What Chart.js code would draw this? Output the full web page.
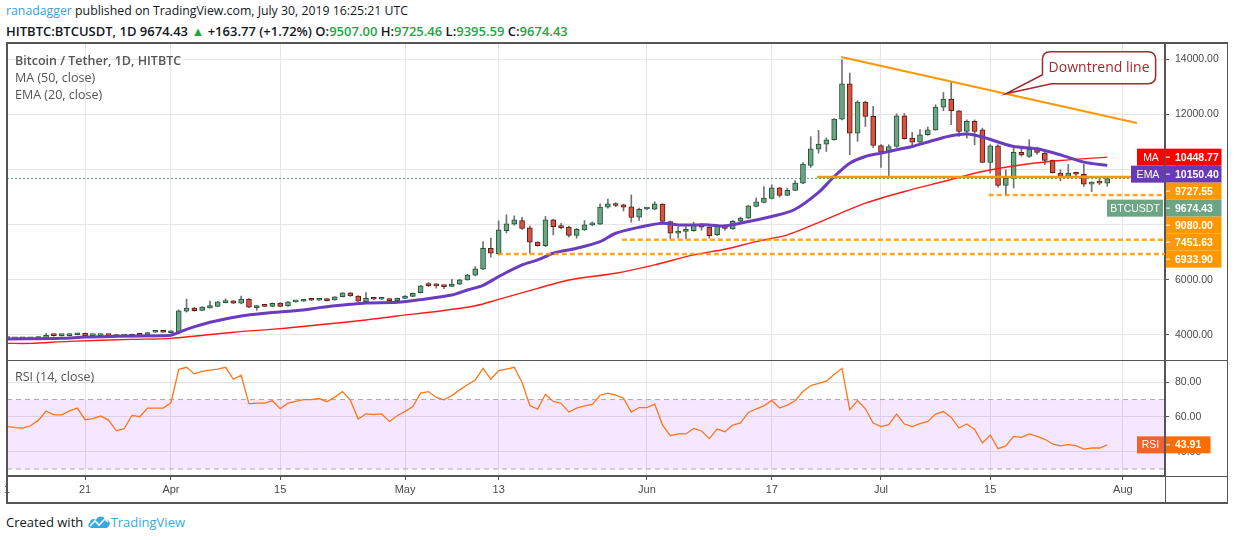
<!DOCTYPE html>
<html>
<head>
<meta charset="utf-8">
<title>Bitcoin / Tether, 1D, HITBTC</title>
<script src="https://cdn.jsdelivr.net/npm/chart.js@4.4.1/dist/chart.umd.min.js"></script>
<style>
  html, body { margin:0; padding:0; background:#fff; }
  body { width:1234px; height:540px; position:relative; overflow:hidden; font-family:'Open Sans', sans-serif; color:#131722; }
  .t { position:absolute; white-space:nowrap; line-height:16px; }
  #h1 { left:6px; top:3px; font-size:12.3px; }
  #h1 .user { color:#3b9fde; }
  #h2 { left:6px; top:23px; font-size:13px; font-weight:600; }
  #h2 .g { color:#1ea63f; }
  .lg { left:15px; font-size:12.5px; color:#555; }
  .lg.b { font-weight:600; }
  canvas { position:absolute; left:0; }
  .ln { position:absolute; background:#555; }
  #foot { left:6px; top:514px; font-size:13px; color:#131722; }
  #foot .tv { color:#36a9e1; }
</style>
</head>
<body>
<div class="t" id="h1"><span class="user">ranadagger</span> published on TradingView.com, July 30, 2019 16:25:21 UTC</div>
<div class="t" id="h2">HITBTC:BTCUSDT, 1D 9674.43 <span style="color:#1ea63f">▲</span> +163.77 (+1.72%) O:<span class="g">9507.00</span> H:<span class="g">9725.46</span> L:<span class="g">9395.59</span> C:<span class="g">9674.43</span></div>

<canvas id="main" width="1234" height="317" style="top:43px"></canvas>
<canvas id="rsi" width="1234" height="143" style="top:360px"></canvas>

<div class="ln" style="left:6px;top:42px;width:1222px;height:1.5px"></div>
<div class="ln" style="left:6px;top:502px;width:1222px;height:1.5px"></div>
<div class="ln" style="left:6px;top:42px;width:1.5px;height:461px"></div>
<div class="ln" style="left:1226.5px;top:42px;width:1.5px;height:461px"></div>
<div class="ln" style="left:6px;top:359.5px;width:1222px;height:1.5px"></div>
<div class="ln" style="left:6px;top:475.5px;width:1222px;height:1.5px"></div>
<div class="ln" style="left:1164.5px;top:42px;width:1.5px;height:461px"></div>

<div class="t lg b" style="top:53px">Bitcoin / Tether, 1D, HITBTC</div>
<div class="t lg" style="top:70px">MA (50, close)</div>
<div class="t lg" style="top:87px">EMA (20, close)</div>
<div class="t lg" style="top:369px">RSI (14, close)</div>

<div class="t" id="foot">Created with <svg width="24" height="14" viewBox="0 0 24 14" style="vertical-align:-2px"><path d="M5 13 C1 13 0 9 3 7.5 C3 4 7 3 9 5 C10 1 16 0 18 4 C22 4 24 8 22 11 C21 12.5 20 13 18 13 Z" fill="#36a9e1"/><polyline points="3,11 8,6 12,10 18,4 21,7" fill="none" stroke="#fff" stroke-width="1.6"/></svg><span class="tv">TradingView</span></div>

<script>
// ---------- DATA ----------
// x values are day numbers counted from 2019-03-01 (day 0); first candle = Mar 11
const firstDay = 10;
const opens = [
  3905,3865,3890,3865,3870,3905,4000,3975,3975,4010,
  4060,3975,3975,4025,3990,3960,3940,4030,4000,4100,
  4120,4080,4120,4860,4980,4895,4980,5040,5175,5235,
  5150,5305,4990,5055,5040,5160,5050,5200,5225,5295,
  5260,5305,5270,5390,5525,5415,5210,5330,5295,5310,
  5245,5330,5400,5535,5860,5850,5790,5765,5840,5995,
  6165,6385,7145,6950,7785,8020,8150,7885,7365,7240,
  8175,7955,7910,7615,7810,7990,8015,8635,8755,8720,
  8645,8270,8570,8560,8745,8115,7690,7760,7785,7990,
  7910,7640,7980,7845,8125,8235,8660,8805,8950,9335,
  9060,9240,9505,10145,10740,10920,11080,11830,13110,11320,
  12445,11925,10870,10630,10835,11950,11140,10995,11260,11440,
  12265,12555,12130,11380,11745,11440,10255,10860,9420,9685,
  10620,10475,10740,10595,10330,9870,9750,9870,9830,9470,
  9540,9507
];
const highs = [
  3920,3910,3900,3900,3940,4060,4020,4025,4045,4070,
  4070,4020,4035,4035,4000,3975,4035,4040,4100,4130,
  4130,4160,4910,5300,5000,5030,5230,5210,5310,5245,
  5415,5320,5070,5065,5160,5170,5210,5250,5285,5305,
  5320,5320,5390,5540,5540,5430,5535,5340,5310,5320,
  5340,5425,5520,5800,5900,5870,5800,6020,6020,6200,
  6480,7390,7510,8140,8360,8320,8270,7960,7380,8300,
  8200,8050,7950,7860,8150,8100,8755,8925,8800,8750,
  9080,8600,8600,8830,8760,8130,7910,7930,8090,8050,
  7930,8000,8000,8150,8280,8700,8960,9385,9445,9350,
  9330,9600,10250,11190,11420,11150,11850,13980,13500,12500,
  12480,12290,10900,10900,12020,12030,11350,11450,11540,12350,
  12795,13160,12140,11800,11800,11500,10900,10900,9990,10780,
  10780,11080,10810,10660,10350,9990,10185,9900,10185,9560,
  9700,9725.46
];
const lows = [
  3860,3850,3850,3855,3860,3895,3960,3965,3965,4000,
  3960,3960,3965,3965,3920,3945,3930,3980,3990,4090,
  4090,4070,4110,4830,4860,4880,4970,5030,5165,5140,
  5140,4990,4895,5030,5030,5030,5040,5190,5215,5250,
  5250,5235,5260,5380,5400,5210,5200,5285,5280,5235,
  5235,5320,5390,5525,5760,5700,5680,5750,5830,5985,
  6140,6370,6820,6900,7700,7980,7830,6960,7220,7200,
  7630,7850,7560,7510,7790,7960,8000,8600,8650,8500,
  8090,8150,8540,8540,8100,7485,7510,7485,7760,7800,
  7510,7600,7800,7830,8110,8220,8640,8790,8930,9000,
  9050,9230,9490,10075,10595,10655,11060,11800,10535,11020,
  11560,10800,10075,9750,10800,11100,10900,10950,11240,11420,
  12130,11625,11200,11140,10900,10250,9870,9360,9080,9330,
  10480,10440,10560,10180,9870,9590,9680,9780,9385,9200,
  9450,9395.59
];
const closes = [
  3870,3890,3865,3885,3930,3990,3975,4010,4035,4060,
  3975,4010,4025,3975,3940,3965,4025,3990,4090,4120,
  4100,4150,4880,4980,4880,5015,5065,5200,5235,5150,
  5305,5005,5050,5040,5150,5040,5200,5235,5270,5260,
  5305,5245,5380,5525,5415,5225,5330,5295,5300,5245,
  5330,5415,5510,5780,5775,5780,5755,5850,6000,6170,
  6400,7145,6965,7810,8030,8175,7860,7365,7240,8175,
  7930,7895,7615,7835,7990,8050,8635,8755,8695,8635,
  8260,8560,8575,8755,8115,7690,7765,7810,7980,7910,
  7605,7980,7860,8125,8235,8680,8825,8960,9335,9060,
  9250,9505,10195,10750,10920,11080,11830,13110,11320,12445,
  11925,10870,10630,10835,11950,11115,10995,11260,11440,12265,
  12555,12130,11380,11745,11380,10255,10860,9420,9685,10620,
  10530,10740,10620,10330,9890,9750,9870,9830,9470,9540,
  9505,9674.43
];
const rsiValues = [
  54.5,53.8,53.6,54.9,58.0,63.4,61.2,61.2,63.5,65.1,
  58.4,59.0,60.5,58.2,52.0,53.2,60.9,60.1,65.1,65.1,
  65.1,68.1,87.4,88.6,84.8,86.3,87.0,87.6,88.6,81.7,
  84.0,67.5,67.9,67.9,69.3,64.7,67.9,68.9,70.0,70.0,
  70.6,68.7,71.4,74.6,69.5,58.8,61.8,61.4,61.8,57.4,
  60.7,63.2,66.0,73.7,74.6,71.2,69.8,72.3,75.6,78.5,
  81.3,88.0,81.7,86.7,87.6,88.6,79.8,66.6,64.5,73.1,
  68.9,67.9,62.8,65.1,66.4,67.2,72.5,73.7,72.5,70.8,
  62.8,65.4,65.4,67.4,55.3,49.2,50.2,50.2,53.4,51.9,
  47.5,53.0,51.5,55.3,56.5,62.6,64.7,66.4,69.5,65.1,
  66.8,69.3,74.6,78.1,79.4,80.6,84.5,88.0,64.1,69.5,
  64.7,56.5,54.4,55.5,61.6,55.9,54.4,56.1,57.4,61.6,
  63.1,59.7,53.6,55.9,52.8,45.0,49.6,41.7,43.3,48.8,
  48.2,50.2,48.8,47.1,44.4,43.3,44.0,43.5,41.5,42.1,
  42.1,43.91
];
// MA(50) and EMA(20) at sample days
const maDays   = [10,13,18,26,31,39,45,50,56,60,65,70,73,78,82,88,93,98,102,106,110,114,120,125,130,135,141,145,151];
const maValues = [3697,3697,3770,3842,3878,4100,4230,4370,4544,4689,4850,5060,5290,5693,5996,6238,6540,6903,7109,7387,7630,8077,8779,9203,9566,9929,10207,10328,10448.77];
const emaDays   = [10,17,20,24,30,31,32,33,36,40,43,48,50,54,56,60,63,67,69,71,73,76,78,80,83,86,88,91,94,96,100,102,105,108,111,114,116,118,120,122,124,126,129,131,133,135,137,139,142,145,148,151];
const emaValues = [3854,3878,3927,3951,3975,3990,4090,4205,4459,4689,4786,4907,4992,5113,5161,5185,5282,5452,5633,5800,6117,6540,6722,6964,7146,7387,7690,7908,8053,7992,7992,7956,8114,8295,8560,9170,9747,10231,10473,10594,10715,10836,11078,11223,11284,11180,11000,10836,10751,10533,10267,10150.40];

// horizontal levels drawn on the chart
const levelValues    = [9727.55, 9080.00, 7451.63, 6933.90];
const levelStartDays = [113.8, 135.8, 88.8, 72.9];
const levelDashed    = [false, true, true, true];
const lastPrice = 9674.43, lastMA = 10448.77, lastEMA = 10150.40, lastRSI = 43.91;
// downtrend line (day, price)
const trendDays   = [116.9, 154.8];
const trendPrices = [14080, 11684];
const calloutText = 'Downtrend line';
const calloutTip  = { day: 138, price: 12746 };
const calloutBox  = { day0: 142.7, day1: 157.2, top: 14270, bottom: 13110 };

// axes
const tickDays   = [10, 20, 31, 45, 61, 73, 92, 108, 122, 136, 153];
const tickLabels = ['1', '21', 'Apr', '15', 'May', '13', 'Jun', '17', 'Jul', '15', 'Aug'];
const priceTicks = [4000, 6000, 8000, 10000, 12000, 14000];
const rsiTicks   = [40, 60, 80];
const rsiBands   = [70, 30];
const X_MIN = 9.99, X_MAX = 158.4;
const P_MIN = 3093, P_MAX = 14588;
const R_MIN = 25.96, R_MAX = 92.8;

// ---------- CHART ----------
Chart.defaults.font.family = "'Liberation Sans', Arial, sans-serif";
const AX_FONT = "'Liberation Sans', Arial, sans-serif";
const days = opens.map((_, i) => firstDay + i);
const up = i => closes[i] >= opens[i];

function tagPlugin(id, items, boxW) {
  return {
    id,
    afterDraw(chart) {
      const { ctx, chartArea: ca } = chart;
      const y = chart.scales.y;
      const H = 17;
      const sorted = items.slice().sort((a, b) => b.v - a.v);
      let prevBottom = -1e9;
      ctx.save();
      ctx.textBaseline = 'middle';
      for (const it of sorted) {
        const top = Math.max(y.getPixelForValue(it.v) - H / 2, prevBottom);
        prevBottom = top + H;
        const cy = top + H / 2 + 0.5;
        ctx.fillStyle = it.bg;
        ctx.fillRect(ca.right + 0.5, top, boxW, H);
        ctx.strokeStyle = '#fff';
        ctx.lineWidth = 1;
        ctx.beginPath();
        ctx.moveTo(ca.right + 1, top + H / 2);
        ctx.lineTo(ca.right + 5, top + H / 2);
        ctx.stroke();
        ctx.fillStyle = '#fff';
        ctx.font = 'bold 10.5px ' + AX_FONT;
        ctx.textAlign = 'left';
        ctx.fillText(it.v.toFixed(2), ca.right + 10, cy);
        if (it.pane) {
          const gap = it.gap || 0;
          ctx.fillStyle = it.paneBg || it.bg;
          ctx.fillRect(ca.right - it.paneW - gap, top, it.paneW, H);
          ctx.fillStyle = '#fff';
          ctx.font = '10.5px ' + AX_FONT;
          ctx.textAlign = 'center';
          ctx.fillText(it.pane, ca.right - gap - it.paneW / 2, cy);
        }
      }
      ctx.restore();
    }
  };
}

const calloutPlugin = {
  id: 'callout',
  afterDatasetsDraw(chart) {
    const { ctx } = chart;
    const x = chart.scales.x, y = chart.scales.y;
    const x0 = x.getPixelForValue(calloutBox.day0), x1 = x.getPixelForValue(calloutBox.day1);
    const y0 = y.getPixelForValue(calloutBox.top), y1 = y.getPixelForValue(calloutBox.bottom);
    const tx = x.getPixelForValue(calloutTip.day), ty = y.getPixelForValue(calloutTip.price);
    const r = 8;
    ctx.save();
    ctx.strokeStyle = '#a5282b';
    ctx.lineWidth = 1.5;
    ctx.fillStyle = '#fff';
    ctx.beginPath();
    ctx.moveTo(x0 + r, y0);
    ctx.lineTo(x1 - r, y0);
    ctx.quadraticCurveTo(x1, y0, x1, y0 + r);
    ctx.lineTo(x1, y1 - r);
    ctx.quadraticCurveTo(x1, y1, x1 - r, y1);
    ctx.lineTo(x0 + 9, y1);
    ctx.lineTo(tx, ty);
    ctx.lineTo(x0, y1 - 9);
    ctx.lineTo(x0, y0 + r);
    ctx.quadraticCurveTo(x0, y0, x0 + r, y0);
    ctx.closePath();
    ctx.fill();
    ctx.stroke();
    ctx.fillStyle = '#a5282b';
    ctx.font = "14px 'Open Sans', sans-serif";
    ctx.textAlign = 'center';
    ctx.textBaseline = 'middle';
    ctx.fillText(calloutText, (x0 + x1) / 2, (y0 + y1) / 2 + 0.5);
    ctx.restore();
  }
};

const lineDs = (pts, color, width, extra) => Object.assign({
  type: 'line', data: pts, borderColor: color, borderWidth: width,
  pointRadius: 0, fill: false, tension: 0
}, extra || {});

const mainDatasets = [
  { type: 'bar', data: days.map((d, i) => ({ x: d, y: [lows[i], highs[i]] })),
    backgroundColor: '#737375', borderWidth: 0, barThickness: 1, grouped: false, order: 20 },
  { type: 'bar', data: days.map((d, i) => ({ x: d, y: [opens[i], closes[i]] })),
    backgroundColor: c => up(c.dataIndex) ? '#6ba583' : '#d75442',
    borderColor: c => up(c.dataIndex) ? '#225437' : '#5b1a13',
    borderWidth: 1, borderSkipped: false, barThickness: 5, minBarLength: 2, grouped: false, order: 19 },
  lineDs([{ x: X_MIN, y: lastPrice }, { x: X_MAX, y: lastPrice }], '#5c9e78', 1, { borderDash: [2, 2], order: 21 }),
  lineDs(maDays.map((d, i) => ({ x: d, y: maValues[i] })), '#ff1a1a', 1.4, { tension: 0.3, order: 6 }),
  lineDs(emaDays.map((d, i) => ({ x: d, y: emaValues[i] })), '#6a3cbf', 3, { tension: 0.3, order: 5 }),
  lineDs(trendDays.map((d, i) => ({ x: d, y: trendPrices[i] })), '#ff9800', 2, { order: 2 })
];
levelValues.forEach((v, i) => {
  mainDatasets.push(lineDs([{ x: levelStartDays[i], y: v }, { x: X_MAX, y: v }],
    levelDashed[i] ? 'rgba(255,152,0,0.85)' : '#ff9800', 2.5,
    { borderDash: levelDashed[i] ? [5, 3] : [], order: 3 }));
});

new Chart(document.getElementById('main'), {
  type: 'bar',
  data: { datasets: mainDatasets },
  options: {
    responsive: false, devicePixelRatio: 1, animation: false,
    layout: { padding: { left: 7, right: 6, top: 0, bottom: 0 } },
    plugins: { legend: { display: false }, tooltip: { enabled: false } },
    scales: {
      x: {
        type: 'linear', min: X_MIN, max: X_MAX, offset: false,
        grid: { color: '#e6e6e6', offset: false, drawTicks: false },
        border: { display: false },
        ticks: { display: false },
        afterBuildTicks: s => { s.ticks = tickDays.map(v => ({ value: v })); },
        afterFit: s => { s.height = 0; s.paddingLeft = 0; s.paddingRight = 0; }
      },
      y: {
        type: 'linear', position: 'right', min: P_MIN, max: P_MAX, beginAtZero: false,
        grid: { color: '#e6e6e6', tickLength: 4, tickColor: '#555' },
        border: { display: true, color: '#555', width: 1.5 },
        ticks: { color: '#4a4a4a', font: { size: 10.5 }, padding: 6, callback: v => Number(v).toFixed(2) },
        afterBuildTicks: s => { s.ticks = priceTicks.map(v => ({ value: v })); },
        afterFit: s => { s.width = 63; s.paddingTop = 0; s.paddingBottom = 0; }
      }
    }
  },
  plugins: [calloutPlugin, tagPlugin('mainTags', [
    { v: lastMA, bg: '#ff0000', pane: 'MA', paneW: 28 },
    { v: lastEMA, bg: '#673ab7', pane: 'EMA', paneW: 34 },
    { v: levelValues[0], bg: '#ff9800' },
    { v: lastPrice, bg: '#6ba583', pane: 'BTCUSDT', paneW: 56, gap: 2 },
    { v: levelValues[1], bg: '#ff9800' },
    { v: levelValues[2], bg: '#ff9800' },
    { v: levelValues[3], bg: '#ff9800' }
  ], 56)]
});

new Chart(document.getElementById('rsi'), {
  type: 'line',
  data: {
    datasets: [
      lineDs([{ x: X_MIN, y: rsiBands[0] }, { x: X_MAX, y: rsiBands[0] }], '#a9a9a9', 1,
        { borderDash: [5, 4], fill: { value: rsiBands[1] }, backgroundColor: 'rgba(153,21,255,0.1)', order: 3 }),
      lineDs([{ x: X_MIN, y: rsiBands[1] }, { x: X_MAX, y: rsiBands[1] }], '#a9a9a9', 1,
        { borderDash: [5, 4], order: 2 }),
      lineDs(days.map((d, i) => ({ x: d, y: rsiValues[i] })), '#ff7518', 1.3, { order: 1 })
    ]
  },
  options: {
    responsive: false, devicePixelRatio: 1, animation: false,
    layout: { padding: { left: 7, right: 6, top: 0, bottom: 0 } },
    plugins: { legend: { display: false }, tooltip: { enabled: false } },
    scales: {
      x: {
        type: 'linear', min: X_MIN, max: X_MAX, offset: false,
        grid: { color: '#e6e6e6', offset: false, drawTicks: true, tickLength: 4, tickColor: '#555' },
        border: { display: true, color: '#555', width: 1.5 },
        ticks: { color: '#4a4a4a', font: { size: 11 }, padding: 3, autoSkip: false, maxRotation: 0,
                 callback: (v, i) => tickLabels[i] },
        afterBuildTicks: s => { s.ticks = tickDays.map(v => ({ value: v })); },
        afterFit: s => { s.height = 27; s.paddingLeft = 0; s.paddingRight = 0; }
      },
      y: {
        type: 'linear', position: 'right', min: R_MIN, max: R_MAX, beginAtZero: false,
        grid: { color: '#e2e2e2', tickLength: 4, tickColor: '#555' },
        border: { display: true, color: '#555', width: 1.5 },
        ticks: { color: '#4a4a4a', font: { size: 10.5 }, padding: 6, callback: v => Number(v).toFixed(2) },
        afterBuildTicks: s => { s.ticks = rsiTicks.map(v => ({ value: v })); },
        afterFit: s => { s.width = 63; s.paddingTop = 0; s.paddingBottom = 0; }
      }
    }
  },
  plugins: [tagPlugin('rsiTags', [
    { v: lastRSI, bg: '#ff6d00', pane: 'RSI', paneBg: '#f4622a', paneW: 27, gap: 1 }
  ], 45)]
});
</script>
</body>
</html>
